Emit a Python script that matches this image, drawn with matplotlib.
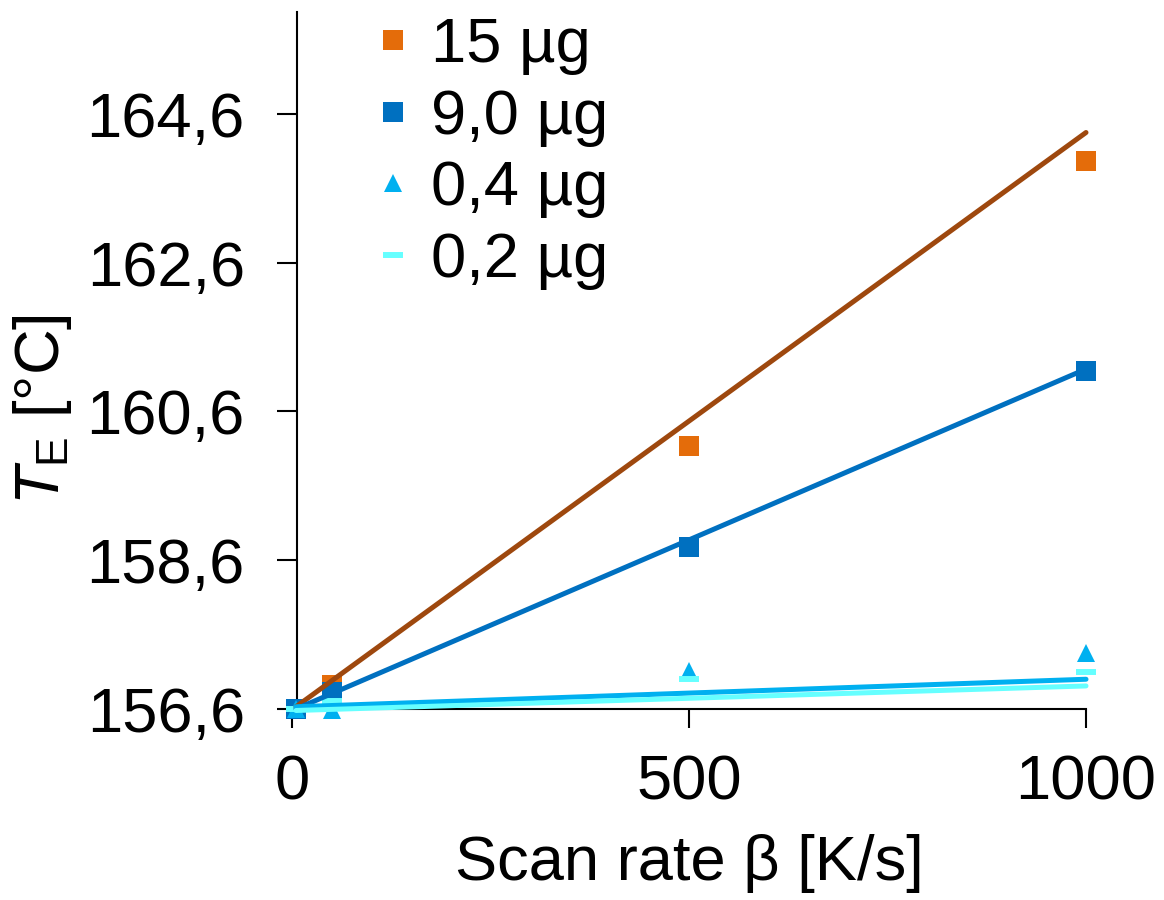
"""Melting temperature T_E vs scan rate for four sample masses."""

import matplotlib

matplotlib.use("Agg")
import matplotlib.pyplot as plt
from matplotlib.ticker import FuncFormatter

plt.rcParams["font.family"] = ["Liberation Sans", "DejaVu Sans"]
plt.rcParams["mathtext.fontset"] = "custom"
plt.rcParams["mathtext.rm"] = "Liberation Sans"
plt.rcParams["mathtext.it"] = "Liberation Sans:italic"

# measured points
scan_rate = [5, 50, 500, 1000]
te_15ug = [156.6, 156.92, 160.13, 163.97]
te_9ug = [156.6, 156.83, 158.78, 161.15]
te_04ug = [156.6, 156.59, 157.11, 157.35]
te_02ug = [156.6, 156.71, 157.0, 157.1]

# trend lines (end points as drawn)
fit_rate = [5, 1000]
fit_15ug = [156.63, 164.35]
fit_9ug = [156.6, 161.17]
fit_04ug = [156.63, 157.0]
fit_02ug = [156.58, 156.91]

labels = ["15 µg", "9,0 µg", "0,4 µg", "0,2 µg"]
y_ticks = [156.6, 158.6, 160.6, 162.6, 164.6]
x_ticks = [0, 500, 1000]

ORANGE = "#E46C0A"
BROWN = "#9E480E"
BLUE = "#0070C0"
LIGHT_BLUE = "#00B0F0"
CYAN = "#66FFFF"

FS = 45.5

fig = plt.figure(figsize=(11.64, 9.0), dpi=100)
ax = fig.add_axes([292 / 1164, 1 - 709 / 900, 794 / 1164, 697 / 900])

ax.plot(scan_rate, te_15ug, "s", color=ORANGE, ms=13.7, mew=0, label=labels[0], clip_on=False, zorder=3)
ax.plot(scan_rate, te_9ug, "s", color=BLUE, ms=13.7, mew=0, label=labels[1], clip_on=False, zorder=3)
ax.plot(scan_rate, te_04ug, "^", color=LIGHT_BLUE, ms=13.5, mew=0, label=labels[2], clip_on=False, zorder=3)
ax.plot(scan_rate, te_02ug, "_", color=CYAN, ms=13.7, mew=4.3, label=labels[3], clip_on=False, zorder=3)

line_kw = dict(lw=3.6, solid_capstyle="round", clip_on=False, zorder=4)
ax.plot(fit_rate, fit_15ug, color=BROWN, **line_kw)
ax.plot(fit_rate, fit_9ug, color=BLUE, **line_kw)
ax.plot(fit_rate, fit_04ug, color=LIGHT_BLUE, **line_kw)
ax.plot(fit_rate, fit_02ug, color=CYAN, **line_kw)

ax.set_xlim(0, 1000)
ax.set_ylim(156.6, 165.97)
ax.set_xticks(x_ticks)
ax.set_yticks(y_ticks)
ax.yaxis.set_major_formatter(FuncFormatter(lambda v, _: f"{v:.1f}".replace(".", ",")))

for side in ("top", "right"):
    ax.spines[side].set_visible(False)
ax.spines["left"].set_position(("data", 6))
for side in ("left", "bottom"):
    ax.spines[side].set_linewidth(1.5)
    ax.spines[side].set_color("black")

ax.tick_params(axis="y", direction="out", length=14.4, width=1.5, pad=23, labelsize=FS)
ax.tick_params(axis="x", direction="out", length=13.7, width=1.5, pad=18, labelsize=FS)

ax.set_xlabel("Scan rate β [K/s]", fontsize=FS, labelpad=16)
ax.set_ylabel(r"$T_\mathrm{E}$ [°C]", fontsize=FS)
ax.yaxis.set_label_coords(-0.275, 0.43)

ax.legend(
    loc="upper left",
    bbox_to_anchor=(374 / 1164, 1 - 16 / 900),
    bbox_transform=fig.transFigure,
    frameon=False,
    fontsize=FS,
    handlelength=0.6,
    handletextpad=0.3,
    labelspacing=0.2,
    borderpad=0,
    borderaxespad=0,
)

fig.savefig("out.png", dpi=100)
plt.close(fig)
